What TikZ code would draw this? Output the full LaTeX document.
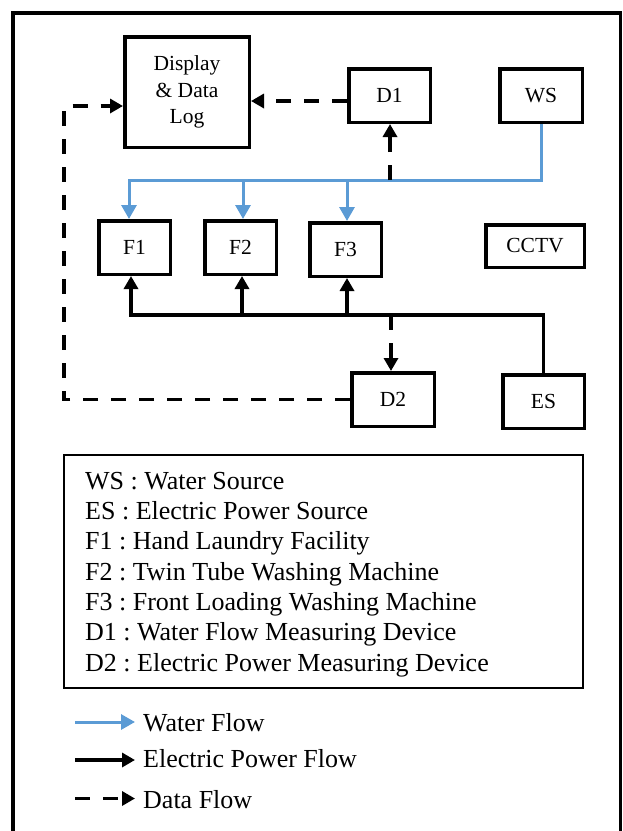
\documentclass[tikz,border=0pt]{standalone}
\usepackage{fontspec}
\setmainfont{Liberation Serif}
\frenchspacing
\usetikzlibrary{arrows.meta}
\definecolor{waterblue}{RGB}{91,155,213}
\begin{document}
\begin{tikzpicture}[x=1pt,y=-1pt,
  box/.style={draw, line width=3.5pt, font=\fontsize{21.5}{26.5}\selectfont, inner sep=0pt, align=center},
  water/.style={draw=waterblue, line width=3pt, -{Triangle[width=15pt,length=14pt]}},
  power/.style={line width=3.5pt, -{Triangle[width=14pt,length=13pt]}},
  data/.style={line width=3.5pt, dash pattern=on 15pt off 13pt, -{Triangle[width=14pt,length=13pt]}},
  legtext/.style={font=\fontsize{26}{30}\selectfont, anchor=base west, inner sep=0pt}]
\useasboundingbox (0,0) rectangle (623,831);
\draw[line width=3.5pt] (13,831) -- (13,12.75) -- (620.5,12.75) -- (620.5,831);

% boxes
\node[box, minimum width=124.5pt, minimum height=110.5pt] (disp) at (187,92) {Display\\\& Data\\Log};
\node[box, minimum width=81.5pt, minimum height=53.5pt] (D1) at (389.5,95.5) {D1};
\node[box, minimum width=82.5pt, minimum height=53.5pt] (WS) at (541,95.5) {WS};
\node[box, minimum width=71.5pt, minimum height=53.5pt] (F1) at (134.5,247.5) {F1};
\node[box, minimum width=71.5pt, minimum height=53.5pt] (F2) at (240.5,247.5) {F2};
\node[box, minimum width=71.5pt, minimum height=53.5pt] (F3) at (345.5,249.5) {F3};
\node[box, minimum width=98.5pt, minimum height=42.5pt] (CCTV) at (535,246) {CCTV};
\node[box, minimum width=82.5pt, minimum height=53.5pt] (D2) at (393,399.5) {D2};
\node[box, minimum width=81.5pt, minimum height=53.5pt] (ES) at (543.5,401.5) {ES};

% junction coordinates
\coordinate (wL) at (129,180);
\coordinate (wF2) at (243,180);
\coordinate (wF3) at (347,180);
\coordinate (wD1) at (390,180);
\coordinate (pL) at (131,315);
\coordinate (pF2) at (242,315);
\coordinate (pF3) at (347,315);
\coordinate (pD2) at (391,315);
\coordinate (dy) at (0,101);
\coordinate (dl) at (64,106);

% water flow
\draw[water] (WS.south) |- (wL) -- (wL |- F1.north);
\draw[water] (wF2) -- (wF2 |- F2.north);
\draw[water] (wF3) -- (wF3 |- F3.north);

% electric power flow
\draw[power] (ES.north) |- (pL) -- (pL |- F1.south);
\draw[power] (pF2) -- (pF2 |- F2.south);
\draw[power] (pF3) -- (pF3 |- F3.south);

% data flow
\draw[data] (wD1) -- (wD1 |- D1.south);
\draw[data] (D1.west |- dy) -- (disp.east |- dy);
\draw[data] (pD2) -- (pD2 |- D2.north);
\draw[data] (D2.west) -| (dl) -- (disp.west |- dl);

% legend box
\node[draw, line width=2pt, minimum width=519pt, minimum height=233pt, inner sep=0pt] (legend) at (323.5,571.5) {};
\node[legtext] (l1) at (85,489) {WS : Water Source};
\node[legtext] (l2) at (85,519.3) {ES : Electric Power Source};
\node[legtext] (l3) at (85,549.7) {F1 : Hand Laundry Facility};
\node[legtext] (l4) at (85,580) {F2 : Twin Tube Washing Machine};
\node[legtext] (l5) at (85,610.3) {F3 : Front Loading Washing Machine};
\node[legtext] (l6) at (85,640.7) {D1 : Water Flow Measuring Device};
\node[legtext] (l7) at (85,671) {D2 : Electric Power Measuring Device};

% flow key
\coordinate (kw1) at (75,722);
\coordinate (kw2) at (135,722);
\coordinate (ke1) at (75,760);
\coordinate (ke2) at (135,760);
\coordinate (kd1) at (75,798.5);
\coordinate (kd2) at (135,798.5);
\draw[water] (kw1) -- (kw2);
\draw[power] (ke1) -- (ke2);
\draw[data] (kd1) -- (kd2);
\node[legtext] (kwt) at (143,731.5) {Water Flow};
\node[legtext] (ket) at (143,767) {Electric Power Flow};
\node[legtext] (kdt) at (143,808) {Data Flow};
\end{tikzpicture}
\end{document}
